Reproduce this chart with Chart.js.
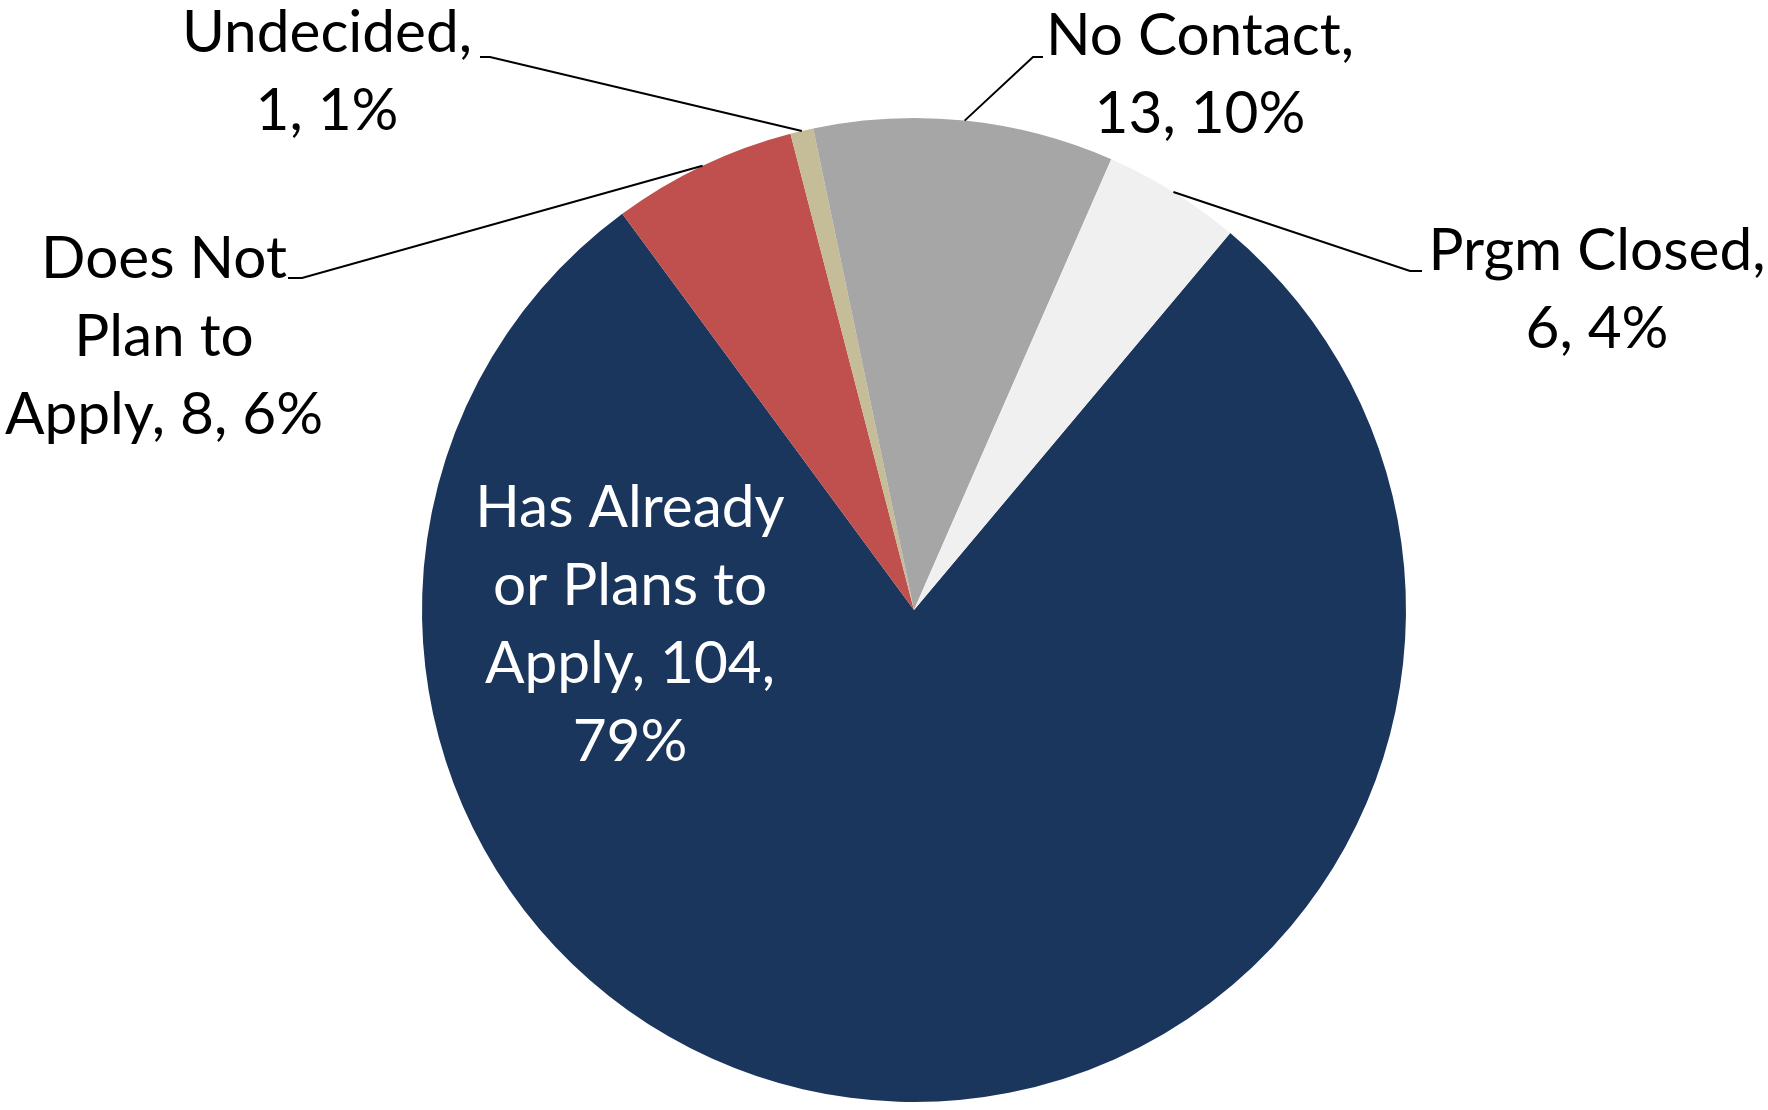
<!DOCTYPE html>
<html>
<head>
<meta charset="utf-8">
<title>Application status pie</title>
<script src="https://cdn.jsdelivr.net/npm/chart.js@4/dist/chart.umd.min.js"></script>
<style>
  html, body { margin: 0; padding: 0; background: #fff; }
  #wrap { width: 1768px; height: 1110px; }
</style>
</head>
<body>
<div id="wrap"><canvas id="pie" width="1768" height="1110"></canvas></div>
<script>
// data
const categories = ['Has Already or Plans to Apply', 'Does Not Plan to Apply', 'Undecided', 'No Contact', 'Prgm Closed'];
const counts = [104, 8, 1, 13, 6];
const percentLabels = ['79%', '6%', '1%', '10%', '4%'];
const sliceColors = ['#1A365D', '#C0504D', '#C4BD97', '#A6A6A6', '#F0F0F0'];

// where each data label sits (centre x, first baseline), how its words wrap,
// and the short horizontal tick the leader line ends on
const labelLayout = [
  { cx: 630, y: 527, wrap: [2, 3, 2, 1], color: '#FFFFFF' },
  { cx: 164, y: 278, wrap: [2, 2, 3], color: '#000000', tick: [288, 302, 278] },
  { cx: 327, y: 52, wrap: [1, 2], color: '#000000', tick: [480, 490, 57] },
  { cx: 1200, y: 55, wrap: [2, 2], color: '#000000', tick: [1043, 1033, 57] },
  { cx: 1597, y: 270, wrap: [2, 2], color: '#000000', tick: [1422, 1410, 271] },
];
const labelFont = '58.5px Lato';
const lineGap = 78;

// draws the Excel-style "Category, value, percent" labels with leader lines
const dataLabels = {
  id: 'dataLabels',
  afterDatasetsDraw(chart) {
    const ctx = chart.ctx;
    const arcs = chart.getDatasetMeta(0).data;
    ctx.save();
    ctx.font = labelFont;
    ctx.textAlign = 'center';
    ctx.textBaseline = 'alphabetic';

    arcs.forEach((arc, i) => {
      const lay = labelLayout[i];
      const words = `${categories[i]}, ${counts[i]}, ${percentLabels[i]}`.split(' ');
      let k = 0;
      lay.wrap.forEach((n, row) => {
        const line = words.slice(k, k + n).join(' ');
        k += n;
        ctx.fillStyle = lay.color;
        ctx.fillText(line, lay.cx, lay.y + row * lineGap);
      });

      if (lay.tick) {
        const mid = (arc.startAngle + arc.endAngle) / 2;
        const px = arc.x + Math.cos(mid) * arc.outerRadius;
        const py = arc.y + Math.sin(mid) * arc.outerRadius;
        const [tx1, tx2, ty] = lay.tick;
        ctx.strokeStyle = '#000000';
        ctx.lineWidth = 2;
        ctx.beginPath();
        ctx.moveTo(tx1, ty);
        ctx.lineTo(tx2, ty);
        ctx.lineTo(px, py);
        ctx.stroke();
      }
    });
    ctx.restore();
  }
};

const chart = new Chart(document.getElementById('pie'), {
  type: 'pie',
  data: {
    labels: categories,
    datasets: [{
      data: counts,
      backgroundColor: sliceColors,
      borderWidth: 0,
    }]
  },
  options: {
    responsive: false,
    devicePixelRatio: 1,
    animation: false,
    rotation: 40,
    layout: {
      padding: { left: 422, right: 362, top: 118, bottom: 8 }
    },
    plugins: {
      legend: { display: false },
      tooltip: { enabled: false },
    }
  },
  plugins: [dataLabels]
});
</script>
</body>
</html>
